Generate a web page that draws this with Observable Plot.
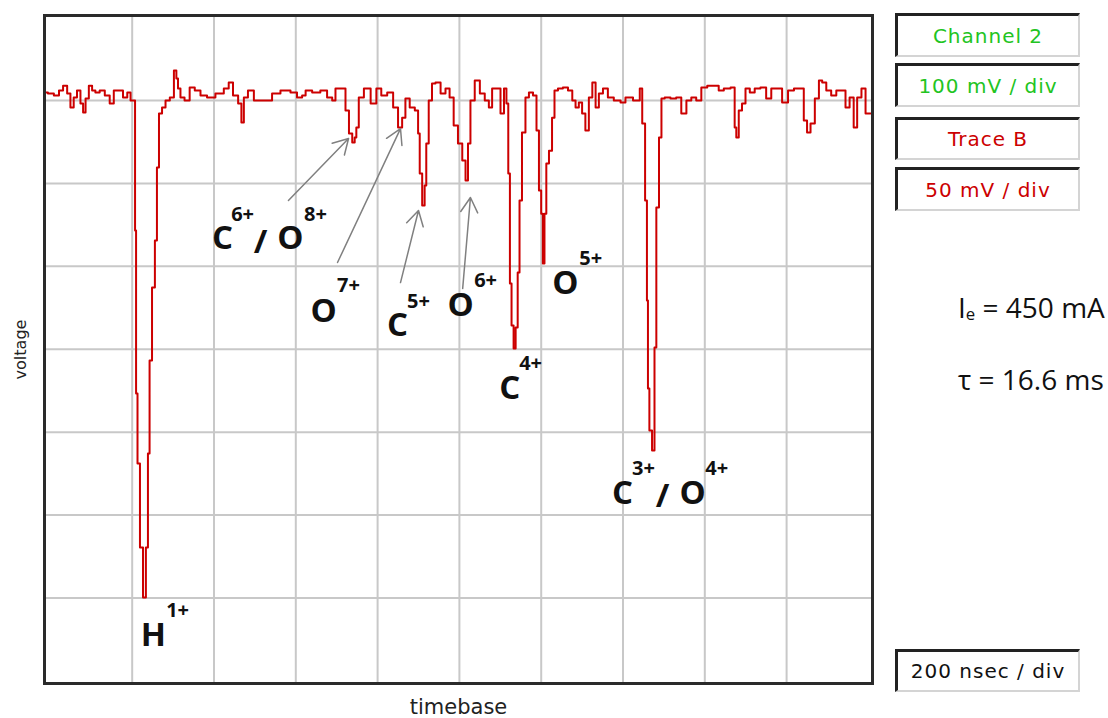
<!DOCTYPE html>
<html>
<head>
<meta charset="utf-8">
<script src="https://cdn.jsdelivr.net/npm/d3@7"></script>
<script src="https://cdn.jsdelivr.net/npm/@observablehq/plot@0.6"></script>
<style>
  html, body { margin: 0; padding: 0; background: #fff; }
  #wrap { position: relative; width: 1108px; height: 718px; overflow: hidden; }
  #chart { position: absolute; left: 0; top: 0; }
  .box {
    position: absolute; left: 895px; width: 185px; box-sizing: border-box;
    border-top: 3px solid #222; border-left: 3px solid #222;
    border-right: 2px solid #d4d4d4; border-bottom: 2px solid #d4d4d4;
    background: #fff; display: flex; align-items: center; justify-content: center;
    font-family: "DejaVu Sans", sans-serif; font-size: 20px; letter-spacing: 1px;
  }
  .green { color: #22c422; }
  .red { color: #cc0000; }
  .black { color: #111; }
  .param { position: absolute; left: 958px; font-family: "Open Sans", sans-serif; font-size: 28px; line-height: 28px; color: #111; white-space: nowrap; }
  .param .sub { font-size: 60%; vertical-align: -0.12em; }
</style>
</head>
<body>
<div id="wrap">
  <div id="chart"></div>
  <div class="box green" style="top:13px;height:44px;">Channel 2</div>
  <div class="box green" style="top:63px;height:44px;">100 mV / div</div>
  <div class="box red" style="top:117px;height:43px;">Trace B</div>
  <div class="box red" style="top:167px;height:44px;">50 mV / div</div>
  <div class="box black" style="top:649px;height:43px;">200 nsec / div</div>
  <div class="param" style="top:293px;">I<span class="sub">e</span> = 450 mA</div>
  <div class="param" style="top:365px;">τ = 16.6 ms</div>
</div>
<script>
// Trace B samples: time (ns, 200 ns/div) and voltage (mV, 50 mV/div)
const timeNs = [
  -12, 0, 17, 25, 37, 45, 53, 61, 69, 78, 82, 90, 98, 106, 114, 127, 139, 151, 159, 171, 184, 192, 200,
  206, 208, 211, 215, 223, 230, 237, 240, 245, 252, 259, 262, 269, 277, 286, 298, 306, 310, 314, 322, 334,
  347, 359, 375, 391, 416, 432, 440, 453, 465, 469, 477, 489, 506, 538, 546, 579, 595, 611, 620, 628, 652,
  668, 685, 693, 701, 717, 726, 734, 742, 746, 750, 758, 775, 791, 803, 815, 832, 844, 856, 864, 872, 885,
  897, 901, 905, 913, 917, 921, 929, 937, 946, 962, 970, 982, 990, 1003, 1011, 1019, 1023, 1031, 1044,
  1056, 1068, 1076, 1084, 1096, 1105, 1113, 1117, 1122, 1125, 1130, 1135, 1140, 1145, 1149, 1157, 1166,
  1174, 1186, 1191, 1198, 1202, 1206, 1210, 1215, 1223, 1230, 1235, 1247, 1259, 1272, 1280, 1288, 1296,
  1304, 1312, 1321, 1329, 1337, 1345, 1357, 1369, 1386, 1402, 1410, 1439, 1443, 1451, 1457, 1460, 1462,
  1467, 1475, 1479, 1484, 1492, 1496, 1508, 1524, 1536, 1549, 1561, 1573, 1585, 1598, 1614, 1630, 1638,
  1655, 1671, 1675, 1679, 1687, 1695, 1704, 1716, 1728, 1744, 1756, 1769, 1781, 1797, 1810, 1826, 1838,
  1846, 1854, 1863, 1875, 1883, 1891, 1903, 1915, 1928, 1940, 1948, 1960, 1968, 1977, 1989, 1997, 2005
];
const voltageMv = [
  4.8, 4.2, 3.0, 6.0, 9.0, 4.2, -4.2, 1.8, 6.0, -1.8, -7.2, 1.2, 9.0, 6.0, 4.8, 6.0, 3.0, -1.8, 6.0, 6.0, 1.8, 4.8, 0,
  0, -78.4, -176.7, -218.9, -269.6, -299.8, -269.6, -212.9, -156.8, -112.8, -84.4, -40.4, -7.8, -4.2, 0, 1.8, 18.1, 13.3, 7.2, 1.8, 0,
  7.8, 6.0, 3.0, 1.8, 4.2, 7.2, 10.9, 3.0, -1.8, -13.3, 1.8, 6.0, 0, 0, 4.2, 6.0, 4.8, 1.8, 3.0, 6.0, 4.8,
  6.0, 1.8, 0, 7.2, 7.2, -6.0, -19.9, -25.3, -22.3, -16.3, 1.8, 7.2, -1.8, 7.2, 3.0, 4.8, -4.2, -16.3, -10.3, 1.2, -4.2,
  -6.0, -19.9, -44.0, -63.3, -51.3, -25.9, 0, 10.3, 10.9, 4.2, 7.2, 1.8, -15.1, -25.9, -36.2, -48.2, -25.9, 0, 12.1,
  4.2, 0, -4.2, 7.2, 7.2, -7.8, 7.2, -1.8, -44.0, -110.4, -135.7, -149.6, -136.9, -103.7, -60.3, -19.3, 1.8,
  4.8, 3.0, -18.1, -54.3, -68.2, -98.3, -68.2, -38.0, -30.2, -10.3, 6.0, 7.2, 7.8, 6.0, 0, -4.2, -1.2,
  -7.8, -18.1, 1.8, 10.9, -4.2, 4.2, 7.2, 1.8, 0, -1.2, 1.8, 0, 7.2, -13.9, -60.3, -120.6, -173.7,
  -199.0, -211.1, -149.0, -64.5, -22.3, 1.2, 1.8, 1.2, 1.8, -7.8, 0, 1.8, 0, 7.8, 9.0, 9.0, 6.0,
  7.2, 7.8, -16.3, -22.3, -6.0, -1.8, 7.2, 4.8, 7.2, 7.8, 1.2, 7.2, 7.2, -1.2, 6.0, 7.2, 7.2,
  -12.1, -19.3, -13.9, 1.2, 12.1, 10.9, 6.0, 3.0, 6.0, 6.0, -4.2, 1.8, -16.3, 1.8, 7.2, -7.8, -7.8
];

// Grid divisions
const timeGrid = [200, 400, 600, 800, 1000, 1200, 1400, 1600, 1800];
const voltGrid = [0, -50, -100, -150, -200, -250, -300];

// Ion labels (main symbol) and charge-state superscripts, in data units
const ionText = ["C", "/", "O", "O", "C", "O", "O", "C", "C", "/", "O", "H"];
const ionT    = [421, 514, 587, 668, 849, 1003, 1259, 1123, 1399, 1497, 1570, 252];
const ionV    = [-83.2, -85.6, -83.2, -127.2, -135.7, -123.6, -110.3, -173.7, -237, -238.8, -237, -322.6];
const chargeText = ["6+", "8+", "7+", "5+", "6+", "5+", "4+", "3+", "4+", "1+"];
const chargeT    = [470, 648, 729, 900, 1064, 1321, 1174, 1450, 1629, 311];
const chargeV    = [-68.7, -68.7, -111.6, -121.2, -108.5, -95.3, -158.6, -221.9, -221.9, -307.5];

// Pointer arrows (from label to peak)
const arrowT1 = [582, 702, 856, 1008];
const arrowV1 = [-60.3, -97.7, -109.8, -113.4];
const arrowT2 = [729, 856, 900, 1027];
const arrowV2 = [-22.9, -16.9, -66.3, -58.5];

const trace = timeNs.map((t, i) => ({t, v: voltageMv[i]}));
const ions = ionText.map((s, i) => ({s, t: ionT[i], v: ionV[i]}));
const charges = chargeText.map((s, i) => ({s, t: chargeT[i], v: chargeV[i]}));
const arrows = arrowT1.map((t1, i) => ({t1, v1: arrowV1[i], t2: arrowT2[i], v2: arrowV2[i]}));

const chart = Plot.plot({
  width: 1108,
  height: 718,
  marginLeft: 44,
  marginRight: 236,
  marginTop: 15,
  marginBottom: 35,
  style: {background: "transparent"},
  x: {domain: [-14.4, 2010], axis: null},
  y: {domain: [-351.6, 51.3], axis: null},
  marks: [
    Plot.gridX(timeGrid, {stroke: "#c8c8c8", strokeOpacity: 1, strokeWidth: 2}),
    Plot.gridY(voltGrid, {stroke: "#c8c8c8", strokeOpacity: 1, strokeWidth: 2}),
    Plot.line(trace, {x: "t", y: "v", stroke: "#cc0000", strokeWidth: 2, curve: "step"}),
    Plot.arrow(arrows, {x1: "t1", y1: "v1", x2: "t2", y2: "v2", stroke: "#808080", strokeWidth: 1.5, headLength: 17, headAngle: 60}),
    Plot.text(ions, {x: "t", y: "v", text: "s", fontFamily: "Open Sans", fontWeight: "bold", fontSize: 33, fill: "#111", textAnchor: "middle", lineAnchor: "middle"}),
    Plot.text(charges, {x: "t", y: "v", text: "s", fontFamily: "Open Sans", fontWeight: "bold", fontSize: 20, fill: "#111", textAnchor: "middle", lineAnchor: "middle"}),
    Plot.frame({stroke: "#2a2a2a", strokeWidth: 3}),
    Plot.text(["timebase"], {frameAnchor: "bottom", dy: 24, lineAnchor: "middle", textAnchor: "middle", fontFamily: "DejaVu Sans", fontSize: 21, fill: "#222"}),
    Plot.text(["voltage"], {frameAnchor: "left", dx: -24, rotate: -90, lineAnchor: "middle", textAnchor: "middle", fontFamily: "DejaVu Sans", fontSize: 16, fill: "#222"})
  ]
});
document.getElementById("chart").appendChild(chart);
</script>
</body>
</html>
